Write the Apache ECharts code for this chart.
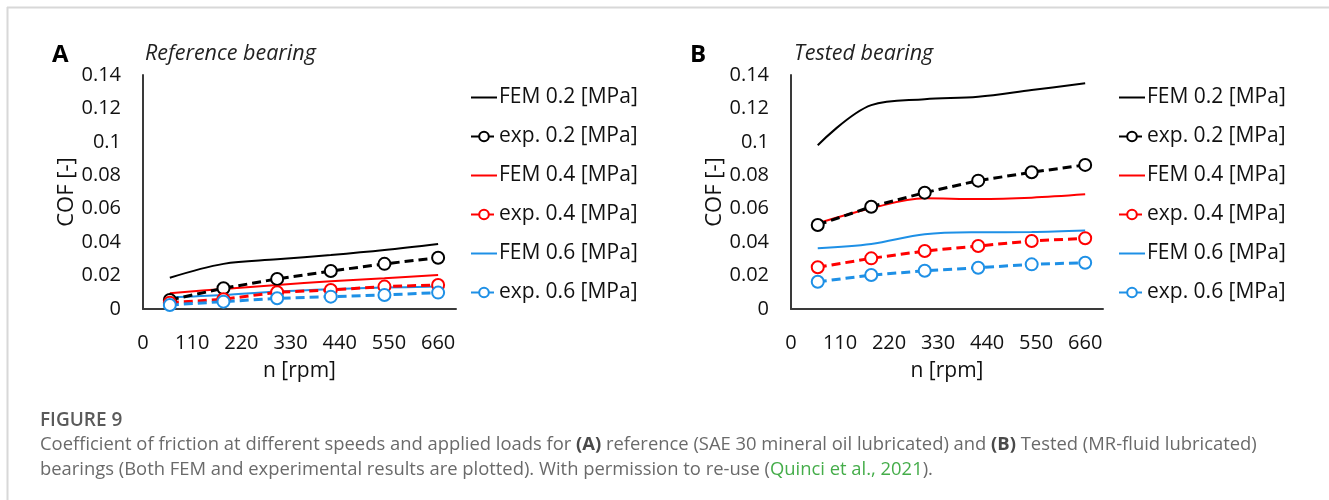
<!DOCTYPE html>
<html>
<head>
<meta charset="utf-8">
<script src="https://cdn.jsdelivr.net/npm/echarts@6/dist/echarts.min.js"></script>
<style>
  html, body { margin: 0; padding: 0; background: #fff; }
  #chart { width: 1329px; height: 500px; }
</style>
</head>
<body>
<div id="chart"></div>
<script>
// speeds [rpm]
const speeds = [60, 180, 300, 420, 540, 660];
const xTicks = [0, 110, 220, 330, 440, 550, 660];
const yTicks = [0, 0.02, 0.04, 0.06, 0.08, 0.1, 0.12, 0.14];

const seriesNames = ['FEM 0.2 [MPa]', 'exp. 0.2 [MPa]', 'FEM 0.4 [MPa]', 'exp. 0.4 [MPa]', 'FEM 0.6 [MPa]', 'exp. 0.6 [MPa]'];

// (A) reference bearing
const femA02 = [0.0187, 0.027, 0.0297, 0.0323, 0.0353, 0.0389];
const expA02 = [0.0054, 0.0124, 0.018, 0.0227, 0.027, 0.0307];
const femA04 = [0.0094, 0.012, 0.0144, 0.0166, 0.0184, 0.0203];
const expA04 = [0.0038, 0.0058, 0.010, 0.0114, 0.0134, 0.0144];
const femA06 = [0.0070, 0.0084, 0.0104, 0.0118, 0.0128, 0.0134];
const expA06 = [0.0024, 0.0044, 0.0064, 0.0074, 0.0084, 0.0098];

// (B) tested bearing
const femB02 = [0.098, 0.122, 0.1255, 0.127, 0.131, 0.135];
const expB02 = [0.0503, 0.0612, 0.0696, 0.0768, 0.0818, 0.0862];
const femB04 = [0.0513, 0.0603, 0.0662, 0.0658, 0.0666, 0.0686];
const expB04 = [0.025, 0.0303, 0.0347, 0.0377, 0.0407, 0.0423];
const femB06 = [0.0363, 0.0389, 0.0447, 0.0459, 0.046, 0.0469];
const expB06 = [0.0163, 0.0203, 0.0229, 0.0247, 0.0267, 0.0277];

const colors = ['#000000', '#000000', '#ff0000', '#ff0000', '#1e90e6', '#1e90e6'];
const FONT = '"Open Sans", "Liberation Sans", sans-serif';

function pairs(ys) {
  return speeds.map((s, i) => [s, ys[i]]);
}

function xAxis(gridIndex) {
  return {
    type: 'value', gridIndex: gridIndex, min: 0, max: 700, interval: 110,
    name: 'n [rpm]', nameLocation: 'middle', nameGap: 52,
    nameTextStyle: { fontFamily: FONT, fontSize: 21, color: '#111' },
    axisLine: { lineStyle: { color: '#3a3a3a', width: 2 } },
    axisTick: { show: false },
    splitLine: { show: false },
    axisLabel: {
      margin: 24, fontFamily: FONT, fontSize: 20, color: '#111',
      formatter: v => (xTicks.indexOf(v) >= 0 ? String(v) : '')
    }
  };
}

function yAxis(gridIndex) {
  return {
    type: 'value', gridIndex: gridIndex, min: 0, max: 0.14, interval: 0.02,
    name: 'COF [-]', nameLocation: 'middle', nameGap: 64,
    nameTextStyle: { fontFamily: FONT, fontSize: 22, color: '#111' },
    axisLine: { show: true, lineStyle: { color: '#3a3a3a', width: 2 } },
    axisTick: { show: false },
    splitLine: { show: false },
    axisLabel: {
      margin: 22, fontFamily: FONT, fontSize: 20, color: '#111',
      formatter: v => {
        const t = yTicks.find(k => Math.abs(k - v) < 1e-9);
        return t === undefined ? '' : String(t);
      }
    }
  };
}

function panelSeries(gridIndex, lists) {
  return lists.map((ys, i) => {
    const isExp = i % 2 === 1;
    return {
      name: seriesNames[i],
      type: 'line',
      xAxisIndex: gridIndex,
      yAxisIndex: gridIndex,
      data: pairs(ys),
      smooth: isExp ? false : 0.35,
      symbol: isExp ? 'emptyCircle' : 'none',
      symbolSize: 12,
      showSymbol: isExp,
      color: colors[i],
      lineStyle: isExp
        ? { color: colors[i], width: 3, type: [9, 5] }
        : { color: colors[i], width: 2 },
      itemStyle: { color: colors[i], borderColor: colors[i], borderWidth: 2 },
      z: isExp ? 3 : 2
    };
  });
}

function legend(left) {
  return {
    orient: 'vertical', left: left, top: 87, padding: 0,
    itemWidth: 26, itemHeight: 12, itemGap: 18,
    selectedMode: false,
    // FEM entries show only a line, no marker
    data: seriesNames.map((n, i) => (i % 2 === 0 ? { name: n, itemStyle: { opacity: 0 } } : { name: n })),
    textStyle: { fontFamily: FONT, fontSize: 21, lineHeight: 21, color: '#111', padding: [0, 0, 0, -3] }
  };
}

const chart = echarts.init(document.getElementById('chart'));

chart.setOption({
  animation: false,
  backgroundColor: '#fff',
  grid: [
    { left: 143, top: 75, width: 313, bottom: 191 },
    { left: 791, top: 75, width: 312, bottom: 191 }
  ],
  xAxis: [xAxis(0), xAxis(1)],
  yAxis: [yAxis(0), yAxis(1)],
  legend: [legend(470), legend(1118)],
  series: panelSeries(0, [femA02, expA02, femA04, expA04, femA06, expA06])
    .concat(panelSeries(1, [femB02, expB02, femB04, expB04, femB06, expB06])),
  graphic: [
    { type: 'line', shape: { x1: 7, y1: 7.5, x2: 1329, y2: 7.5 }, style: { stroke: '#d8d8d8', lineWidth: 2 } },
    { type: 'line', shape: { x1: 7.5, y1: 7, x2: 7.5, y2: 500 }, style: { stroke: '#d8d8d8', lineWidth: 2 } },
    { type: 'text', left: 52, top: 43, style: { text: 'A', font: 'bold 24px ' + FONT, fill: '#000' } },
    { type: 'text', left: 145, top: 43, style: { text: 'Reference bearing', font: 'italic 21.5px ' + FONT, fill: '#222' } },
    { type: 'text', left: 690, top: 43, style: { text: 'B', font: 'bold 24px ' + FONT, fill: '#000' } },
    { type: 'text', left: 794, top: 43, style: { text: 'Tested bearing', font: 'italic 21.5px ' + FONT, fill: '#222' } },
    { type: 'text', left: 40, top: 411, style: { text: 'FIGURE 9', font: '600 19px ' + FONT, fill: '#5a5a5a' } },
    {
      type: 'text', left: 40, top: 436,
      style: {
        text: 'Coefficient of friction at different speeds and applied loads for {b|(A)} reference (SAE 30 mineral oil lubricated) and {b|(B)} Tested (MR-fluid lubricated)',
        font: '18.4px ' + FONT, fill: '#6a6a6a',
        rich: { b: { fontFamily: FONT, fontSize: 18.4, fontWeight: 'bold', fill: '#4a4a4a' } }
      }
    },
    {
      type: 'text', left: 40, top: 461,
      style: {
        text: 'bearings (Both FEM and experimental results are plotted). With permission to re-use ({g|Quinci et al., 2021}).',
        font: '18.4px ' + FONT, fill: '#6a6a6a',
        rich: { g: { fontFamily: FONT, fontSize: 18.4, fill: '#45ad4a' } }
      }
    }
  ]
});
</script>
</body>
</html>
